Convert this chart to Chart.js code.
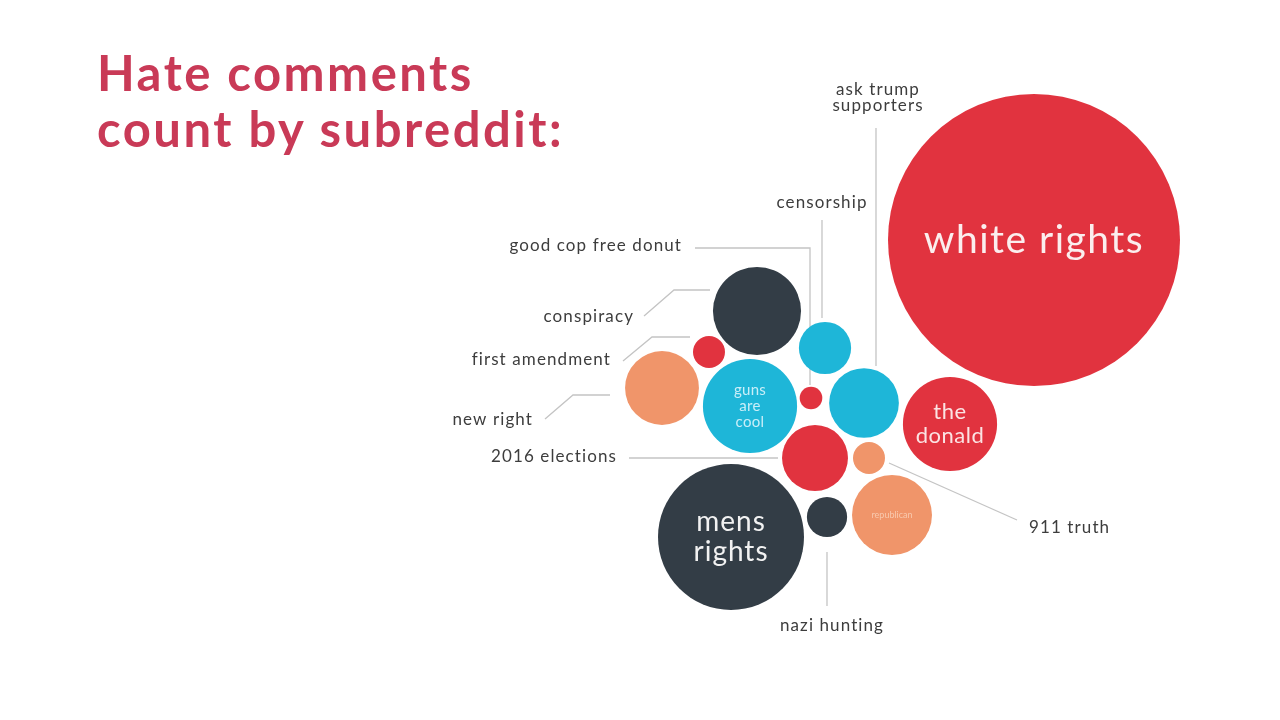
<!DOCTYPE html>
<html>
<head>
<meta charset="utf-8">
<script src="https://cdn.jsdelivr.net/npm/chart.js@4/dist/chart.umd.min.js"></script>
<style>
  html, body { margin: 0; padding: 0; background: #ffffff; }
  #wrap { position: relative; width: 1280px; height: 720px; }
  #title { position: absolute; left: 97px; top: 44px; margin: 0; font-family: Lato, sans-serif; font-weight: 700;
           font-size: 49px; line-height: 56px; color: #c93a57; letter-spacing: 2.5px; }
  canvas { position: absolute; left: 0; top: 0; }
</style>
</head>
<body>
<div id="wrap">
  <canvas id="c" width="1280" height="720"></canvas>
  <h1 id="title">Hate comments<br>count by subreddit:</h1>
</div>
<script>
// Subreddits and estimated hate-comment counts (relative)
const subreddits = ["white rights", "mens rights", "the donald", "guns are cool", "conspiracy",
  "republican", "new right", "ask trump supporters", "2016 elections", "censorship",
  "nazi hunting", "first amendment", "911 truth", "good cop free donut"];
const counts = [1000, 250, 104, 104, 91, 75, 64, 57, 51, 32, 19, 12, 12, 6];
const groups = ["red", "dark", "red", "cyan", "dark", "orange", "orange", "cyan", "red", "cyan",
  "dark", "red", "orange", "red"];
// packed-layout positions of the bubbles (layout space 0..1280 x 0..720)
const layoutX = [1034, 731, 950, 750, 757, 892, 662, 864, 815, 825, 827, 709, 869, 811];
const layoutY = [240, 537, 424, 406, 311, 515, 388, 403, 458, 348, 517, 352, 458, 398];

const palette = { red: "#e1333f", dark: "#333d46", cyan: "#1eb6d8", orange: "#f0956a" };
const radiusScale = 146 / Math.sqrt(1000);

const points = subreddits.map((s, i) => ({ x: layoutX[i], y: layoutY[i], r: radiusScale * Math.sqrt(counts[i]), name: s }));

// labels inside bubbles
const inside = {
  "white rights": { lines: ["white rights"], size: 39, spacing: 1.5, color: "#fbeeee" },
  "mens rights": { lines: ["mens", "rights"], size: 28, spacing: 1, color: "#f2f2f2" },
  "the donald": { lines: ["the", "donald"], size: 22, spacing: 0.5, color: "#fbe3e3" },
  "guns are cool": { lines: ["guns", "are", "cool"], size: 15, spacing: 0.3, color: "#c9eef8" },
  "republican": { lines: ["republican"], size: 9, spacing: 0, color: "#f8c9ae" }
};
// external labels with leader lines (layout units)
const callouts = {
  "ask trump supporters": { text: ["ask trump", "supporters"], tx: 878, ty: 90, align: "center", path: [[876, 128], [876, 366]] },
  "censorship": { text: ["censorship"], tx: 822, ty: 203, align: "center", path: [[822, 220], [822, 318]] },
  "good cop free donut": { text: ["good cop free donut"], tx: 682, ty: 246, align: "right", path: [[695, 248], [810, 248], [810, 385]] },
  "conspiracy": { text: ["conspiracy"], tx: 634, ty: 317, align: "right", path: [[644, 316], [674, 290], [710, 290]] },
  "first amendment": { text: ["first amendment"], tx: 611, ty: 360, align: "right", path: [[623, 361], [652, 337], [690, 337]] },
  "new right": { text: ["new right"], tx: 533, ty: 420, align: "right", path: [[545, 419], [573, 395], [610, 395]] },
  "2016 elections": { text: ["2016 elections"], tx: 617, ty: 457, align: "right", path: [[629, 458], [778, 458]] },
  "911 truth": { text: ["911 truth"], tx: 1029, ty: 528, align: "left", path: [[1017, 520], [889, 463]] },
  "nazi hunting": { text: ["nazi hunting"], tx: 832, ty: 626, align: "center", path: [[827, 552], [827, 606]] }
};

const annotate = {
  id: "annotate",
  beforeDatasetsDraw(chart) {
    const ctx = chart.ctx, xs = chart.scales.x, ys = chart.scales.y;
    ctx.save();
    ctx.strokeStyle = "#c4c4c4";
    ctx.lineWidth = 1.3;
    Object.values(callouts).forEach(c => {
      ctx.beginPath();
      c.path.forEach((p, k) => {
        const px = xs.getPixelForValue(p[0]), py = ys.getPixelForValue(p[1]);
        if (k === 0) ctx.moveTo(px, py); else ctx.lineTo(px, py);
      });
      ctx.stroke();
    });
    ctx.restore();
  },
  afterDatasetsDraw(chart) {
    const ctx = chart.ctx, xs = chart.scales.x, ys = chart.scales.y;
    ctx.save();
    ctx.textBaseline = "middle";
    // external labels
    ctx.fillStyle = "#3d3d3d";
    ctx.font = "17px Lato, sans-serif";
    ctx.letterSpacing = "1.1px";
    Object.values(callouts).forEach(c => {
      ctx.textAlign = c.align;
      c.text.forEach((t, k) => ctx.fillText(t, xs.getPixelForValue(c.tx), ys.getPixelForValue(c.ty) + k * 16));
    });
    // internal labels
    const meta = chart.getDatasetMeta(0);
    meta.data.forEach((el, i) => {
      const info = inside[subreddits[i]];
      if (!info) return;
      ctx.fillStyle = info.color;
      ctx.textAlign = "center";
      ctx.font = info.size + "px Lato, sans-serif";
      ctx.letterSpacing = info.spacing + "px";
      const lh = info.size * 1.08;
      const n = info.lines.length;
      info.lines.forEach((t, k) => ctx.fillText(t, el.x, el.y + (k - (n - 1) / 2) * lh));
    });
    ctx.restore();
  }
};

new Chart(document.getElementById("c"), {
  type: "bubble",
  data: {
    datasets: [{
      data: points,
      backgroundColor: groups.map(g => palette[g]),
      hoverBackgroundColor: groups.map(g => palette[g]),
      borderWidth: 0,
      hoverBorderWidth: 0,
      clip: false
    }]
  },
  options: {
    responsive: false,
    animation: false,
    events: [],
    layout: { padding: 0, autoPadding: false },
    plugins: { legend: { display: false }, tooltip: { enabled: false }, title: { display: false } },
    scales: {
      x: { type: "linear", min: 0, max: 1280, display: false },
      y: { type: "linear", min: 0, max: 720, reverse: true, display: false }
    }
  },
  plugins: [annotate]
});
</script>
</body>
</html>
